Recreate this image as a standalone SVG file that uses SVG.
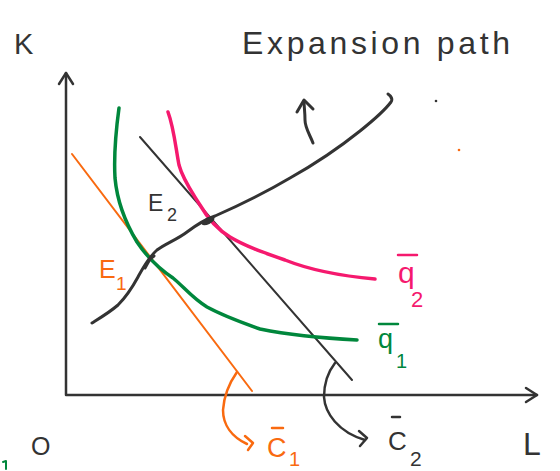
<svg xmlns="http://www.w3.org/2000/svg" width="560" height="471" viewBox="0 0 560 471">
<style>
.ln{fill:none;stroke-linecap:round;stroke-linejoin:round}
.blk{stroke:#333}
.org{stroke:#f96a10}
.grn{stroke:#00873c}
.pnk{stroke:#f5196e}
.t{font-family:"Liberation Sans","DejaVu Sans",sans-serif}
.tb{fill:#333}
.to{fill:#f96a10}
.tg{fill:#00873c}
.tp{fill:#f5196e}
</style>
<rect width="560" height="471" fill="#fff"/>
<g id="axes">
<path class="ln blk" stroke-width="2.5" d="M66,73 L66,395 L537,395"/>
<path class="ln blk" stroke-width="2.5" d="M59,84 L66,73 L73,84"/>
<path class="ln blk" stroke-width="2.5" d="M526,388 L537,395 L526,402"/>
</g>
<g id="isocost-c1">
<path class="ln org" stroke-width="2" d="M72,154 L252,391"/>
</g>
<g id="isocost-c2">
<path class="ln blk" stroke-width="2" d="M140,137 L352,380"/>
</g>
<g id="isoquant-q1">
<path class="ln grn" stroke-width="3.5" d="M119,108 C116,130 114,160 115,178 C117,200 125,222 137,242 C147,257 158,268 173,278 C183,286 192,298 207,307 C220,314 240,322 260,329 C290,335 320,338 357,340"/>
</g>
<g id="isoquant-q2">
<path class="ln pnk" stroke-width="3.5" d="M168,112 C174,128 176,150 179,165 C183,180 192,192 200,205 C207,217 215,228 230,237 C245,246 262,252 285,260 C305,268 330,275 375,279"/>
</g>
<g id="expansion-path">
<path class="ln blk" stroke-width="3" d="M92,323 C100,318 110,312 118,305 C126,297 132,288 138,277 C143,268 148,258 157,250 C165,244 178,239 187,232 C195,226 203,220 215,216 C240,205 263,194 290,178 C315,164 340,147 360,131 C375,119 385,110 391,102 C393,99 391,96 388,94"/>
<path class="ln blk" stroke-width="3" d="M145,268 L150,259 L154,256"/>
<ellipse cx="208" cy="221" rx="7" ry="3.2" fill="#333" transform="rotate(-25 208 221)"/>
</g>
<g id="connectors">
<path class="ln blk" stroke-width="3" d="M313,143 C310,135 305,128 305,120 C305,112 304,106 304,101"/>
<path class="ln blk" stroke-width="3" d="M297,112 L304,100 L313,109"/>
<path class="ln org" stroke-width="2.5" d="M237,372 C230,382 224,395 223,410 C223,425 232,437 247,444"/>
<path class="ln org" stroke-width="2.5" d="M245,436 L253,443 L248,450"/>
<path class="ln blk" stroke-width="2.5" d="M335,363 C328,372 324,385 324,397 C325,413 338,432 365,440"/>
<path class="ln blk" stroke-width="2.5" d="M359,431 L367,438 L360,446"/>
</g>
<g id="labels">
<text class="t tb" x="242" y="54" font-size="32" textLength="268" lengthAdjust="spacing">Expansion path</text>
<text class="t tb" x="14" y="54" font-size="29">K</text>
<text class="t tb" x="523" y="455" font-size="32">L</text>
<text class="t tb" x="31" y="455" font-size="25">O</text>
<text class="t tb" x="148" y="211" font-size="23">E<tspan x="167" y="221" font-size="18">2</tspan></text>
<text class="t to" x="99" y="278" font-size="25">E<tspan x="116" y="290" font-size="19">1</tspan></text>
<path class="ln org" stroke-width="2.5" d="M272,428 L283,428"/>
<text class="t to" x="267" y="457" font-size="27">C<tspan x="289" y="466" font-size="20">1</tspan></text>
<path class="ln blk" stroke-width="2.5" d="M392,417 L400,417"/>
<text class="t tb" x="388" y="450" font-size="26">C<tspan x="410" y="466" font-size="21">2</tspan></text>
<path class="ln grn" stroke-width="2.5" d="M379,324 L398,324"/>
<text class="t tg" x="378" y="348" font-size="27">q<tspan x="396" y="368" font-size="20">1</tspan></text>
<path class="ln pnk" stroke-width="2.5" d="M398,255 L417,255"/>
<text class="t tp" x="398" y="283" font-size="30">q<tspan x="411" y="307" font-size="22">2</tspan></text>
</g>
<g id="marks">
<circle cx="436" cy="101" r="1.3" fill="#333"/>
<circle cx="459" cy="150" r="1.3" fill="#f96a10"/>
<path class="ln grn" stroke-width="2" d="M3,462 L6,461 L6,469"/>
</g>
</svg>
